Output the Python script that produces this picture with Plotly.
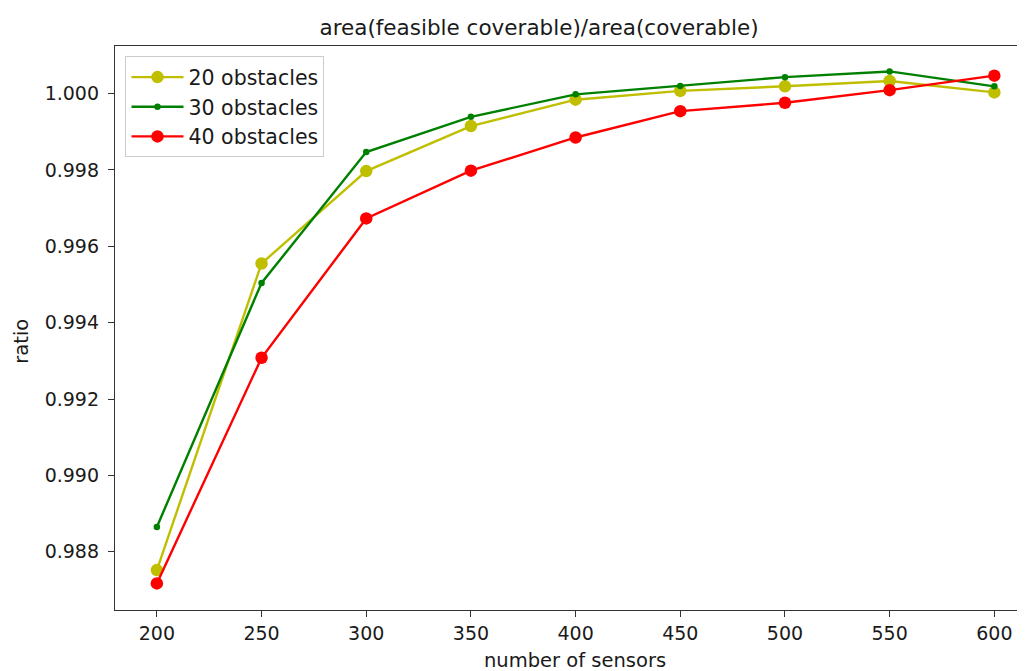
import plotly.graph_objects as go

sensors = [200, 250, 300, 350, 400, 450, 500, 550, 600]
obs20 = [0.98752, 0.99555, 0.99797, 0.99915, 0.99984, 1.00007, 1.00019, 1.00033, 1.00003]
obs30 = [0.98865, 0.99504, 0.99847, 0.99939, 0.99998, 1.00020, 1.00043, 1.00058, 1.00019]
obs40 = [0.98717, 0.99308, 0.99673, 0.99798, 0.99885, 0.99954, 0.99976, 1.00009, 1.00047]
names = ["20 obstacles", "30 obstacles", "40 obstacles"]
xticks = [200, 250, 300, 350, 400, 450, 500, 550, 600]
yticks = [0.988, 0.990, 0.992, 0.994, 0.996, 0.998, 1.000]
ytick_labels = ["0.988", "0.990", "0.992", "0.994", "0.996", "0.998", "1.000"]

# page body has an 8px margin; work in screen coordinates and subtract it
OFF = 8
W, H = 1025 - OFF, 671 - OFF
L, R, T, B = 114.5 - OFF, 1023 - OFF, 45.7 - OFF, 610 - OFF

TXT = "#1a1a1a"
FONT = "DejaVu Sans"

fig = go.Figure()
series = [
    (obs20, names[0], "#bfbf00", 12.5),
    (obs30, names[1], "#008000", 6.5),
    (obs40, names[2], "#ff0000", 12.5),
]
for i, (vals, nm, col, ms) in enumerate(series):
    fig.add_trace(go.Scatter(
        x=sensors, y=vals, name=nm, mode="lines+markers",
        line=dict(color=col, width=2.4),
        marker=dict(color=col, size=ms, line=dict(width=0)),
        legendgroup=f"g{i}",
    ))

fig.update_layout(
    width=W, height=H,
    margin=dict(l=L, r=W - R, t=T, b=H - B, pad=0, autoexpand=False),
    paper_bgcolor="white", plot_bgcolor="white",
    font=dict(family=FONT, size=19, color=TXT),
    showlegend=True,
    title=dict(text="area(feasible coverable)/area(coverable)",
               xref="container", x=(539 - OFF) / W, xanchor="center",
               yref="container", y=1 - (27 - OFF) / H, yanchor="middle",
               font=dict(family=FONT, size=21.5, color=TXT)),
    legend=dict(x=(125 - OFF - L) / (R - L), y=(B - (56 - OFF)) / (B - T),
                xanchor="left", yanchor="top",
                bordercolor="#cccccc", borderwidth=1, bgcolor="rgba(255,255,255,0.8)",
                font=dict(family=FONT, size=20.5, color=TXT),
                tracegroupgap=0, itemwidth=52),
    xaxis=dict(range=[180, 600 + (1023 - 994.3) / 2.096], automargin=False,
               tickmode="array", tickvals=xticks, ticktext=[str(v) for v in xticks],
               showgrid=False, zeroline=False,
               showline=True, linecolor="#333333", linewidth=1.3, mirror=True,
               ticks="outside", ticklen=6, tickwidth=1.3, tickcolor="#333333",
               tickfont=dict(family=FONT, size=19, color=TXT)),
    yaxis=dict(range=[0.986474, 1.001246], automargin=False,
               tickmode="array", tickvals=yticks, ticktext=ytick_labels,
               showgrid=False, zeroline=False,
               showline=True, linecolor="#333333", linewidth=1.3, mirror=False,
               ticks="outside", ticklen=6, tickwidth=1.3, tickcolor="#333333",
               ticklabelstandoff=5,
               tickfont=dict(family=FONT, size=19, color=TXT)),
    annotations=[
        dict(text="number of sensors", xref="paper", yref="paper",
             x=(575 - OFF - L) / (R - L), y=-((661 - OFF) - B) / (B - T),
             xanchor="center", yanchor="middle", showarrow=False,
             font=dict(family=FONT, size=19.5, color=TXT)),
        dict(text="ratio", xref="paper", yref="paper",
             x=-(L - (21 - OFF)) / (R - L), y=(B - (341 - OFF)) / (B - T),
             xanchor="center", yanchor="middle", showarrow=False, textangle=-90,
             font=dict(family=FONT, size=19.5, color=TXT)),
    ],
)

fig.write_html("out.html")
